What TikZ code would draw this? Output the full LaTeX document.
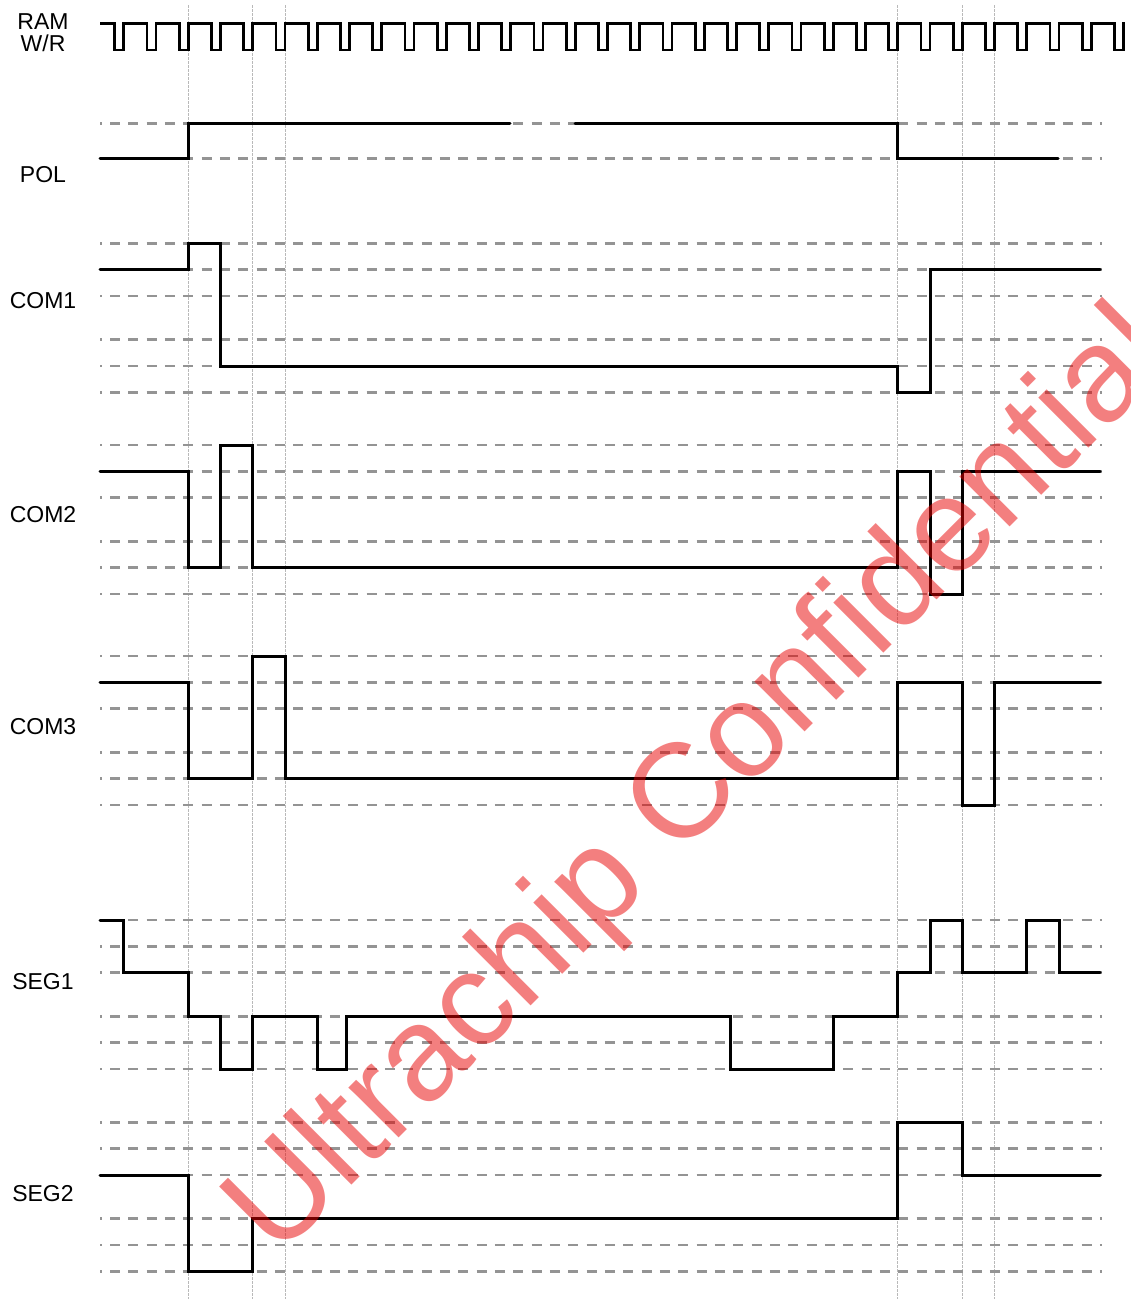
\documentclass[tikz,border=0pt]{standalone}
\usepackage{fontspec}
\setmainfont{Liberation Sans}
\definecolor{gridv}{RGB}{185,185,185}
\definecolor{gridh}{RGB}{148,148,148}
\definecolor{wmred}{RGB}{232,0,0}
\tikzset{
  vline/.style={draw=gridv, line width=0.8pt, dash pattern=on 3pt off 1pt},
  hdash/.style={draw=gridh, line width=2.5pt, dash pattern=on 10pt off 8.33pt, dash phase=8.33pt},
  wave/.style={draw=black, line width=3pt, line join=miter, line cap=round},
  clk/.style={draw=black, line width=2.7pt, line join=miter},
  lbl/.style={font=\fontsize{23}{20}\selectfont, anchor=base, inner sep=0pt, align=center},
  wm/.style={text=wmred, text opacity=0.5, rotate=45, anchor=base west, inner sep=0pt,
    font=\fontsize{134}{134}\selectfont}
}
\begin{document}
\begin{tikzpicture}[x=1pt, y=-1pt]
\useasboundingbox (0,0) rectangle (1131,1299);
% vertical timing lines
\foreach \vx/\nm in {188.3/va,252.7/vb,285/vc,897.5/vd,962.3/ve,994.5/vf}{
  \coordinate (\nm t) at (\vx,5);
  \coordinate (\nm b) at (\vx,1299);
  \draw[vline] (\nm t) -- (\nm b);
}
% POL dashed levels
\foreach \yy in {123.3,158.3}{
  \draw[hdash] (100,\yy) -- (1102,\yy);
}
% dashed levels of COM and SEG groups
\foreach \t in {243.3,445,656,920,1122.3}{
  \foreach \o in {0,26.3,52.7,96.3,122.7,149}{
    \draw[hdash] (100,{\t+\o}) -- (1102,{\t+\o});
  }
}
% RAM W/R clock
\draw[clk] (100,23.3)
  \foreach \k in {-2,...,29}{ -- ({188.3+32.245*\k-9},23.3) -- ++(0,26.7) -- ++(9,0) -- ++(0,-26.7) }
  -- ++(1.6,0);
% POL
\draw[wave] (100,158.3) -| (188.3,123.3) -- (510,123.3);
\draw[wave] (575,123.3) -| (897.5,158.3) -- (1058,158.3);
% COM1
\draw[wave] (100,269.6) -| (188.3,243.3) -| (220.5,366) -| (897.5,392.3) -| (930,269.6) -- (1100,269.6);
% COM2
\draw[wave] (100,471.3) -| (188.3,567.7) -| (220.5,445) -| (252.7,567.7) -| (897.5,471.3) -| (930,594) -| (962.3,471.3) -- (1100,471.3);
% COM3
\draw[wave] (100,682.3) -| (188.3,778.7) -| (252.7,656) -| (285,778.7) -| (897.5,682.3) -| (962.3,805) -| (994.5,682.3) -- (1100,682.3);
% SEG1
\draw[wave] (100,920) -| (123.8,972.7) -| (188.3,1016.3) -| (220.5,1069) -| (252.7,1016.3) -| (317.3,1069) -| (346.7,1016.3) -| (730.7,1069) -| (833.3,1016.3) -| (897.5,972.7) -| (930,920) -| (962.3,972.7) -| (1026.7,920) -| (1059,972.7) -- (1100,972.7);
% SEG2
\draw[wave] (100,1175) -| (188.3,1271.3) -| (252.7,1218.6) -| (897.5,1122.3) -| (962.3,1175) -- (1100,1175);
% labels
\node[lbl] (ram) at (43,29) {RAM};
\node[lbl] (wr) at (43,51) {W/R};
\node[lbl] (pol) at (43,182.5) {POL};
\node[lbl] (com1) at (43,308.5) {COM1};
\node[lbl] (com2) at (43,522.5) {COM2};
\node[lbl] (com3) at (43,734.5) {COM3};
\node[lbl] (seg1) at (43,989.5) {SEG1};
\node[lbl] (seg2) at (43,1201.5) {SEG2};
% watermark
\node[wm] (wmark) at (277,1260) {Ultrachip Confidential};
\end{tikzpicture}
\end{document}
